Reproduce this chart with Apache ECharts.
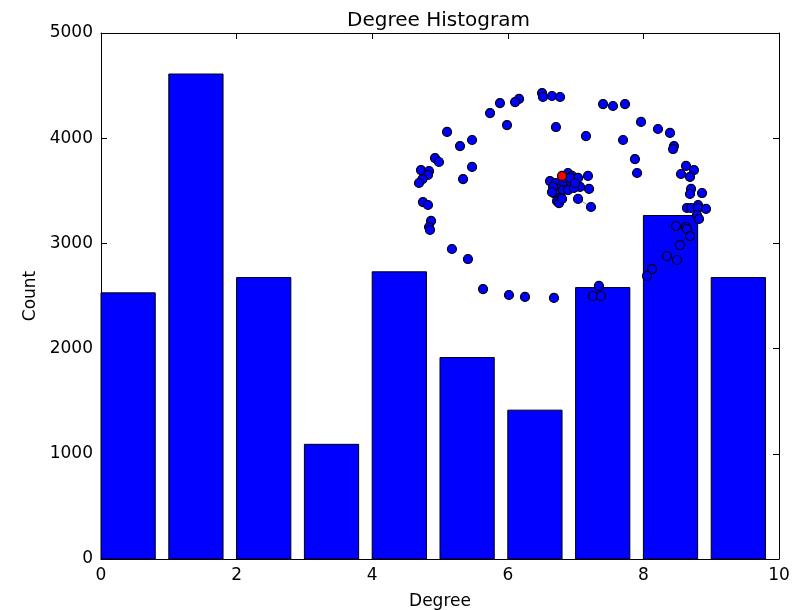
<!DOCTYPE html>
<html>
<head>
<meta charset="utf-8">
<script src="https://cdn.jsdelivr.net/npm/echarts@6/dist/echarts.min.js"></script>
<style>
  html, body { margin: 0; padding: 0; background: #fff; }
  #chart { width: 799px; height: 610px; }
</style>
</head>
<body>
<div id="chart"></div>
<script>
// histogram: left edge of each bin, bar width and counts
var binStart = [0, 1, 2, 3, 4, 5, 6, 7, 8, 9];
var binWidth = 0.8;
var counts = [2530, 4610, 2675, 1090, 2730, 1915, 1415, 2580, 3265, 2675];

var xTicks = [0, 2, 4, 6, 8, 10];
var yTicks = [0, 1000, 2000, 3000, 4000, 5000];

// inset graph layout (node positions, in the inset's own -1..1 space)
var nodeX = [
  -0.134, -0.128, -0.069, -0.016, -0.285, -0.311, -0.410, -0.475, -0.364, -0.043,
  -0.757, 0.154, -0.593, -0.672, -0.836, -0.810, -0.593, -0.652, -0.928, -0.875,
  -0.882, -0.918, -0.941, -0.915, -0.882, -0.862, -0.875, -0.869, -0.725, -0.620,
  -0.521, -0.351, -0.246, -0.056, 0.239, 0.200, 0.252, 0.266, 0.331, 0.410,
  0.515, 0.626, 0.705, 0.731, 0.725, 0.397, 0.475, 0.489, 0.810, 0.862,
  0.777, 0.836, 0.843, 0.836, 0.915, 0.816, 0.843, 0.889, 0.889, 0.941,
  0.882, 0.895, 0.744, 0.810, 0.816, 0.836, 0.770, 0.685, 0.751, 0.587,
  0.554,
  // central cluster
  -0.082, -0.043, 0.003, 0.036, 0.062, 0.102, 0.167, 0.016, 0.056, 0.115,
  0.174, -0.030, 0.003, 0.036, 0.075, -0.062, -0.049, -0.016, -0.036, -0.023,
  -0.003, 0.102, 0.187, 0.049, 0.082, -0.069
];
var nodeY = [
  0.927, 0.891, 0.900, 0.891, 0.873, 0.845, 0.836, 0.745, 0.636, 0.618,
  0.573, 0.536, 0.500, 0.445, 0.336, 0.300, 0.255, 0.145, 0.227, 0.218,
  0.182, 0.145, 0.109, -0.064, -0.091, -0.236, -0.291, -0.318, -0.491, -0.582,
  -0.855, -0.909, -0.927, -0.936, -0.827, -0.918, -0.918, 0.827, 0.809, 0.827,
  0.664, 0.600, 0.564, 0.445, 0.418, 0.500, 0.327, 0.200, 0.264, 0.227,
  0.191, 0.164, 0.055, 0.009, 0.018, -0.118, -0.118, -0.091, -0.118, -0.127,
  -0.182, -0.218, -0.282, -0.291, -0.309, -0.373, -0.455, -0.555, -0.591, -0.673,
  -0.736,
  0.127, 0.109, 0.109, 0.200, 0.173, 0.155, 0.173, 0.155, 0.100, 0.073,
  0.055, 0.055, 0.045, 0.045, 0.064, 0.073, 0.009, -0.027, -0.055, -0.073,
  -0.036, -0.036, -0.109, 0.155, 0.109, 0.027
];
// highlighted node
var redNode = [-0.003, 0.173];
// visible edge (pairs of node indices)
var edges = [[92, 93]];

var FONT = 'DejaVu Sans';

var nodes = nodeX.map(function (x, i) { return [x, nodeY[i]]; });
var bars = binStart.map(function (x, i) { return [x, counts[i]]; });
var edgeSeries = edges.map(function (e) {
  return {
    type: 'line',
    xAxisIndex: 2,
    yAxisIndex: 2,
    data: [nodes[e[0]], nodes[e[1]]],
    symbol: 'none',
    lineStyle: { color: '#999', width: 1 },
    z: 5,
    silent: true
  };
});

var chart = echarts.init(document.getElementById('chart'));

function frameAxis(pos, extra) {
  var a = {
    gridIndex: 0,
    position: pos,
    axisLine: { show: true, onZero: false, lineStyle: { color: '#000', width: 1 } },
    axisTick: { show: true, inside: true, length: 6, lineStyle: { color: '#000' } },
    axisLabel: { show: false },
    splitLine: { show: false }
  };
  return Object.assign(a, extra);
}

var option = {
  animation: false,
  backgroundColor: '#fff',
  title: {
    text: 'Degree Histogram',
    left: 342,
    top: 6,
    textStyle: { fontFamily: FONT, fontSize: 20, fontWeight: 'normal', color: '#000' }
  },
  grid: [
    { left: 101, right: 20, top: 33, bottom: 51, outerBoundsMode: 'none' },
    { left: 410, top: 85, width: 305, height: 220, outerBoundsMode: 'none' }
  ],
  xAxis: [
    frameAxis('bottom', {
      type: 'value', min: 0, max: 10, interval: 2,
      name: 'Degree', nameLocation: 'middle', nameGap: 34,
      nameTextStyle: { fontFamily: FONT, fontSize: 17, color: '#000' },
      axisLabel: {
        show: true, margin: 8, fontFamily: FONT, fontSize: 17, color: '#000',
        customValues: xTicks,
        formatter: function (v) { return String(v); }
      }
    }),
    frameAxis('top', { type: 'value', min: 0, max: 10, interval: 2 }),
    { type: 'value', gridIndex: 1, min: -1, max: 1, show: false }
  ],
  yAxis: [
    frameAxis('left', {
      type: 'value', min: 0, max: 5000, interval: 1000,
      name: 'Count', nameLocation: 'middle', nameGap: 56,
      nameTextStyle: { fontFamily: FONT, fontSize: 17, color: '#000' },
      axisLabel: {
        show: true, margin: 8, fontFamily: FONT, fontSize: 17, color: '#000',
        customValues: yTicks,
        formatter: function (v) { return String(v); }
      }
    }),
    frameAxis('right', { type: 'value', min: 0, max: 5000, interval: 1000 }),
    { type: 'value', gridIndex: 1, min: -1, max: 1, show: false }
  ],
  series: [
    {
      type: 'custom',
      xAxisIndex: 0,
      yAxisIndex: 0,
      data: bars,
      z: 2,
      silent: true,
      renderItem: function (params, api) {
        var x0 = api.value(0);
        var h = api.value(1);
        var p0 = api.coord([x0, h]);
        var p1 = api.coord([x0 + binWidth, 0]);
        return {
          type: 'rect',
          shape: { x: p0[0], y: p0[1], width: p1[0] - p0[0], height: p1[1] - p0[1] },
          style: { fill: '#0000ff', stroke: '#000', lineWidth: 1 }
        };
      }
    }
  ].concat(edgeSeries).concat([
    {
      type: 'scatter',
      xAxisIndex: 2,
      yAxisIndex: 2,
      data: nodes,
      symbol: 'circle',
      symbolSize: 9,
      itemStyle: { color: '#0000ff', borderColor: '#000', borderWidth: 1.2, opacity: 1 },
      z: 10,
      silent: true
    },
    {
      type: 'scatter',
      xAxisIndex: 2,
      yAxisIndex: 2,
      data: [redNode],
      symbol: 'circle',
      symbolSize: 9,
      itemStyle: { color: '#ff0000', borderColor: '#000', borderWidth: 1.2, opacity: 1 },
      z: 11,
      silent: true
    }
  ])
};

chart.setOption(option);
</script>
</body>
</html>
